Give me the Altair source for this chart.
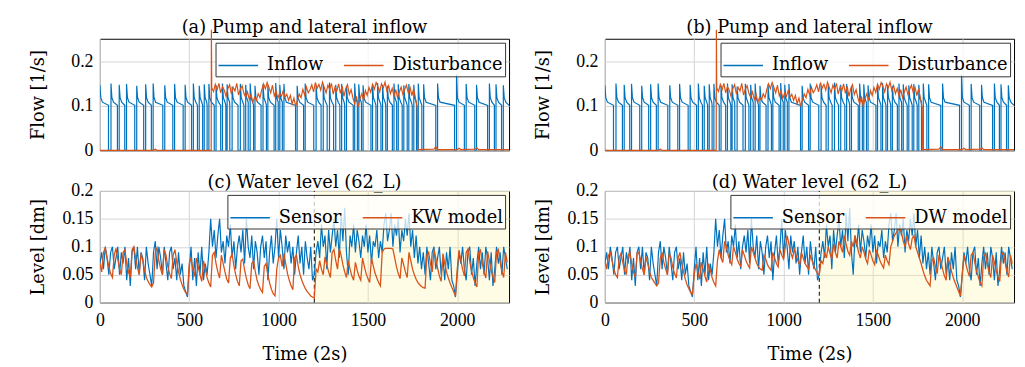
import altair as alt
import pandas as pd

BLUE = "#0072BD"
ORANGE = "#D95319"
FONT = "DejaVu Serif"
TICKFONT = "Liberation Serif"
W, H = 414, 113

t_end = 2290
shade_start = 1200

# ---------------- (a)/(b) pump and lateral inflow ----------------
# pump switch-off intervals (time in units of 2 s)
pump_off_start = [48, 98, 139, 195, 245, 288, 352, 408, 466, 513, 546, 575, 600,
                  640, 676, 705, 727, 773, 806, 830, 860, 902, 932, 975, 998, 1021,
                  1095, 1140, 1197, 1238, 1272, 1308, 1343, 1370, 1418, 1441, 1464,
                  1517, 1545, 1573, 1600, 1637, 1661, 1692, 1720, 1748, 1772,
                  1802, 1880, 1985, 2040, 2098, 2170, 2208, 2248]
pump_off_end = [62, 108, 149, 206, 256, 298, 363, 418, 477, 523, 556, 584, 610,
                650, 686, 712, 740, 786, 816, 841, 868, 913, 940, 984, 1007, 1030,
                1104, 1149, 1210, 1250, 1285, 1320, 1353, 1380, 1426, 1449, 1473,
                1526, 1554, 1582, 1609, 1646, 1670, 1701, 1729, 1757, 1782,
                1812, 1890, 1996, 2050, 2108, 2180, 2217, 2258]
startup_peak = [0.146, 0.15, 0.147, 0.149, 0.145, 0.148, 0.15, 0.146, 0.149, 0.147,
                0.15, 0.145, 0.148, 0.149,
                0.146, 0.15, 0.148, 0.143, 0.149, 0.147, 0.15, 0.145, 0.148, 0.146,
                0.151, 0.147, 0.149, 0.145, 0.15, 0.146, 0.148, 0.152, 0.147, 0.149,
                0.145, 0.15, 0.148, 0.146, 0.149, 0.151, 0.147, 0.145, 0.15, 0.148,
                0.146, 0.149, 0.147, 0.15,
                0.148, 0.15, 0.17, 0.149, 0.147, 0.15, 0.148, 0.146]
settle_level = [0.118, 0.108, 0.101]

dist_pre_t = [0, 300, 310, 320, 623, 624]
dist_pre_v = [0.0, 0.0, 0.003, 0.0, 0.0, 0.27]
dist_t0, dist_dt = 626, 10
dist_v = [0.140, 0.132, 0.148, 0.136, 0.150, 0.129, 0.143, 0.135, 0.121, 0.138,
          0.147, 0.126, 0.141, 0.133, 0.150, 0.124, 0.137, 0.145, 0.128, 0.119,
          0.131, 0.114, 0.125, 0.108, 0.119, 0.112, 0.127, 0.118, 0.136, 0.149,
          0.138, 0.152, 0.141, 0.129, 0.146, 0.122, 0.133, 0.117, 0.128, 0.121,
          0.134, 0.119, 0.126, 0.112, 0.123, 0.104, 0.117, 0.099, 0.113, 0.126,
          0.118, 0.137, 0.124, 0.142, 0.129, 0.136, 0.147, 0.131, 0.152, 0.139,
          0.148, 0.135, 0.153, 0.141, 0.129, 0.146, 0.137, 0.150, 0.126, 0.142,
          0.133, 0.149, 0.128, 0.144, 0.121, 0.138, 0.147, 0.125, 0.136, 0.118,
          0.104, 0.121, 0.098, 0.116, 0.127, 0.112, 0.134, 0.123, 0.141, 0.130,
          0.148, 0.137, 0.152, 0.143, 0.131, 0.149, 0.140, 0.153, 0.134, 0.145,
          0.127, 0.139, 0.122, 0.136, 0.118, 0.131, 0.142, 0.125, 0.137, 0.146,
          0.129, 0.141, 0.123, 0.138, 0.117, 0.096]
dist_post_t = [1779, 1870, 1880, 1890, 2000, 2010, 2020, 2100, 2110, 2120, 2290]
dist_post_v = [0.002, 0.003, 0.008, 0.002, 0.002, 0.005, 0.002, 0.003, 0.006, 0.002, 0.002]

# ---------------- (c)/(d) water level ----------------
level_t = list(range(0, 2290, 10))
sensor = [
    0.07, 0.09, 0.06, 0.1, 0.08, 0.05, 0.09, 0.1, 0.06, 0.08,
    0.1, 0.05, 0.09, 0.07, 0.1, 0.04, 0.08, 0.03, 0.09, 0.1,
    0.06, 0.1, 0.05, 0.09, 0.08, 0.04, 0.1, 0.07, 0.05, 0.03,
    0.09, 0.11, 0.06, 0.1, 0.08, 0.05, 0.1, 0.07, 0.04, 0.09,
    0.1, 0.06, 0.08, 0.04, 0.09, 0.05, 0.07, 0.03, 0.02, 0.01,
    0.06, 0.1, 0.04, 0.08, 0.03, 0.09, 0.05, 0.1, 0.04, 0.07,
    0.05, 0.09, 0.15, 0.1, 0.13, 0.08, 0.12, 0.15, 0.09, 0.11,
    0.07, 0.12, 0.1, 0.14, 0.08, 0.11, 0.06, 0.1, 0.12, 0.09,
    0.13, 0.07, 0.15, 0.1, 0.08, 0.12, 0.06, 0.11, 0.09, 0.05,
    0.1, 0.12, 0.08, 0.11, 0.04, 0.09, 0.12, 0.07, 0.1, 0.15,
    0.08, 0.13, 0.1, 0.06, 0.12, 0.09, 0.11, 0.07, 0.1, 0.05,
    0.09, 0.12, 0.07, 0.1, 0.05, 0.11, 0.08, 0.06, 0.1, 0.04,
    0.05, 0.09, 0.11, 0.08, 0.14, 0.1, 0.12, 0.06, 0.13, 0.09,
    0.12, 0.15, 0.1, 0.13, 0.08, 0.16, 0.11, 0.17, 0.09, 0.05,
    0.12, 0.1, 0.14, 0.09, 0.13, 0.11, 0.08, 0.12, 0.1, 0.14,
    0.09, 0.12, 0.07, 0.11, 0.1, 0.13, 0.08, 0.11, 0.09, 0.14,
    0.16, 0.11, 0.13, 0.16, 0.1, 0.14, 0.12, 0.15, 0.09, 0.13,
    0.11, 0.15, 0.12, 0.16, 0.1, 0.13, 0.08, 0.12, 0.07, 0.1,
    0.06, 0.09, 0.05, 0.1, 0.07, 0.04, 0.09, 0.1, 0.06, 0.08,
    0.1, 0.05, 0.08, 0.04, 0.09, 0.06, 0.1, 0.04, 0.03, 0.01,
    0.05, 0.09, 0.07, 0.1, 0.06, 0.04, 0.09, 0.1, 0.05, 0.08,
    0.03, 0.07, 0.1, 0.06, 0.09, 0.05, 0.1, 0.08, 0.04, 0.09,
    0.03, 0.06, 0.1, 0.07, 0.09, 0.05, 0.1, 0.08, 0.06]
kw_model = [
    0.07, 0.055, 0.09, 0.098, 0.08, 0.065, 0.052, 0.045, 0.085, 0.097,
    0.078, 0.06, 0.05, 0.09, 0.095, 0.07, 0.055, 0.045, 0.095, 0.1,
    0.08, 0.063, 0.05, 0.088, 0.075, 0.058, 0.045, 0.038, 0.032, 0.028,
    0.035, 0.09, 0.098, 0.075, 0.06, 0.05, 0.095, 0.085, 0.065, 0.052,
    0.043, 0.085, 0.095, 0.072, 0.055, 0.042, 0.032, 0.024, 0.018, 0.015,
    0.07, 0.08, 0.06, 0.047, 0.08, 0.065, 0.05, 0.038, 0.075, 0.06,
    0.045, 0.035, 0.028, 0.085, 0.09, 0.07, 0.055, 0.044, 0.085, 0.07,
    0.055, 0.042, 0.035, 0.08, 0.087, 0.066, 0.05, 0.038, 0.03, 0.075,
    0.078, 0.058, 0.043, 0.032, 0.025, 0.07, 0.075, 0.055, 0.04, 0.03,
    0.023, 0.018, 0.065, 0.07, 0.05, 0.035, 0.024, 0.016, 0.012, 0.06,
    0.08, 0.085, 0.065, 0.088, 0.07, 0.052, 0.04, 0.03, 0.023, 0.08,
    0.085, 0.065, 0.05, 0.04, 0.032, 0.025, 0.02, 0.016, 0.012, 0.01,
    0.008, 0.06, 0.055, 0.075, 0.06, 0.05, 0.082, 0.068, 0.055, 0.045,
    0.09, 0.095, 0.075, 0.06, 0.097, 0.085, 0.068, 0.055, 0.045, 0.075,
    0.06, 0.048, 0.04, 0.072, 0.058, 0.047, 0.04, 0.08, 0.065, 0.052,
    0.043, 0.036, 0.08, 0.066, 0.053, 0.044, 0.036, 0.03, 0.09, 0.096,
    0.097, 0.097, 0.097, 0.097, 0.096, 0.08, 0.064, 0.052, 0.043, 0.08,
    0.068, 0.055, 0.045, 0.09, 0.075, 0.06, 0.05, 0.042, 0.036, 0.032,
    0.029, 0.027, 0.026, 0.085, 0.09, 0.07, 0.055, 0.095, 0.08, 0.062,
    0.048, 0.038, 0.088, 0.07, 0.055, 0.044, 0.035, 0.027, 0.02, 0.012,
    0.06, 0.094, 0.075, 0.06, 0.048, 0.09, 0.096, 0.074, 0.057, 0.045,
    0.035, 0.028, 0.09, 0.094, 0.072, 0.055, 0.044, 0.092, 0.075, 0.058,
    0.046, 0.036, 0.09, 0.095, 0.073, 0.056, 0.045, 0.09, 0.072]
dw_model = [
    0.075, 0.06, 0.085, 0.09, 0.075, 0.06, 0.05, 0.045, 0.08, 0.088,
    0.072, 0.058, 0.05, 0.085, 0.09, 0.07, 0.055, 0.045, 0.088, 0.09,
    0.075, 0.06, 0.05, 0.082, 0.07, 0.056, 0.045, 0.04, 0.035, 0.03,
    0.035, 0.08, 0.09, 0.072, 0.06, 0.05, 0.088, 0.08, 0.063, 0.052,
    0.044, 0.08, 0.09, 0.07, 0.055, 0.042, 0.032, 0.025, 0.018, 0.015,
    0.05, 0.07, 0.055, 0.042, 0.072, 0.06, 0.047, 0.037, 0.07, 0.058,
    0.045, 0.036, 0.03, 0.075, 0.095, 0.08, 0.072, 0.11, 0.1, 0.085,
    0.075, 0.068, 0.1, 0.09, 0.078, 0.07, 0.065, 0.095, 0.085, 0.075,
    0.068, 0.062, 0.1, 0.09, 0.08, 0.07, 0.064, 0.06, 0.058, 0.085,
    0.078, 0.068, 0.062, 0.058, 0.09, 0.08, 0.07, 0.064, 0.095, 0.085,
    0.078, 0.1, 0.12, 0.105, 0.09, 0.08, 0.095, 0.085, 0.075, 0.068,
    0.09, 0.08, 0.07, 0.065, 0.06, 0.085, 0.075, 0.065, 0.058, 0.052,
    0.05, 0.075, 0.07, 0.09, 0.08, 0.1, 0.088, 0.078, 0.105, 0.09,
    0.08, 0.11, 0.1, 0.09, 0.12, 0.105, 0.092, 0.085, 0.11, 0.1,
    0.12, 0.105, 0.09, 0.08, 0.1, 0.09, 0.078, 0.07, 0.095, 0.085,
    0.075, 0.068, 0.095, 0.085, 0.075, 0.068, 0.062, 0.085, 0.075, 0.068,
    0.1, 0.11, 0.12, 0.125, 0.13, 0.135, 0.125, 0.11, 0.1, 0.12,
    0.105, 0.095, 0.115, 0.12, 0.1, 0.09, 0.08, 0.07, 0.058, 0.048,
    0.04, 0.035, 0.03, 0.075, 0.08, 0.065, 0.052, 0.085, 0.075, 0.06,
    0.048, 0.04, 0.082, 0.07, 0.056, 0.045, 0.036, 0.028, 0.02, 0.012,
    0.05, 0.085, 0.07, 0.057, 0.047, 0.085, 0.09, 0.072, 0.057, 0.046,
    0.036, 0.03, 0.082, 0.088, 0.07, 0.055, 0.045, 0.085, 0.072, 0.058,
    0.046, 0.038, 0.085, 0.09, 0.072, 0.056, 0.046, 0.085, 0.07]

# ---------------- build tables ----------------
flow_rows = []
starts = [0] + pump_off_end
stops = pump_off_start + [t_end]
for k, (s, e) in enumerate(zip(starts, stops)):
    if k > 0:
        flow_rows.append((s, 0.0))
    flow_rows.append((s, startup_peak[k]))
    flow_rows.append((s + 5, settle_level[0]))
    flow_rows.append((min(s + 14, e), settle_level[1]))
    flow_rows.append((e, settle_level[2]))
    if k < len(stops) - 1:
        flow_rows.append((e, 0.0))
inflow_df = pd.DataFrame(flow_rows, columns=["t", "v"])
inflow_df["series"] = "Inflow"
inflow_df["i"] = range(len(inflow_df))

dist_t = dist_pre_t + [dist_t0 + dist_dt * i for i in range(len(dist_v))] + dist_post_t
dist_vals = dist_pre_v + dist_v + dist_post_v
dist_df = pd.DataFrame({"t": dist_t, "v": dist_vals})
dist_df["series"] = "Disturbance"
dist_df["i"] = range(len(dist_df))

sensor_df = pd.DataFrame({"t": level_t, "v": sensor, "series": "Sensor"})
kw_df = pd.DataFrame({"t": level_t, "v": kw_model, "series": "KW model"})
dw_df = pd.DataFrame({"t": level_t, "v": dw_model, "series": "DW model"})
shade_df = pd.DataFrame({"t": [shade_start], "t2": [t_end], "v": [0.0], "v2": [0.2]})

XTICKS = [0, 500, 1000, 1500, 2000]


def x_enc(show):
    if show:
        ax = alt.Axis(values=XTICKS, format="d", title="Time (2s)", grid=True, ticks=False,
                      domain=False, labelPadding=9, titlePadding=17, labelFlush=False)
    else:
        ax = alt.Axis(values=XTICKS, labels=False, title=None, grid=True, ticks=False, domain=False)
    return alt.X("t:Q", scale=alt.Scale(domain=[0, t_end], nice=False, zero=False), axis=ax)


def y_enc(title, ymax, ticks):
    ax = alt.Axis(values=ticks, format="~g", title=title, grid=True, ticks=False, domain=False,
                  labelPadding=7, titleX=-62, titleY=H / 2, titleAngle=270,
                  titleBaseline="middle", titleAlign="center")
    return alt.Y("v:Q", scale=alt.Scale(domain=[0, ymax], nice=False, zero=False), axis=ax)


def legend():
    return alt.Legend(title=None, orient="top-right", direction="horizontal", offset=4,
                      symbolType="stroke", symbolSize=1600, symbolStrokeWidth=1.5,
                      labelFont=FONT, labelFontSize=18, labelColor="black",
                      fillColor="rgba(255,255,255,0.75)", strokeColor="#333333",
                      padding=2, columnPadding=18, labelOffset=8, cornerRadius=0)


def flow_panel(title):
    cscale = alt.Scale(domain=["Inflow", "Disturbance"], range=[BLUE, ORANGE])
    color = alt.Color("series:N", scale=cscale, legend=legend())
    x = x_enc(False)
    y = y_enc("Flow [1/s]", 0.25, [0, 0.1, 0.2])
    l1 = alt.Chart(inflow_df).mark_line(strokeWidth=1.2, clip=True).encode(
        x=x, y=y, color=color, order="i:Q")
    l2 = alt.Chart(dist_df).mark_line(strokeWidth=1.2, clip=False).encode(
        x=x, y=y, color=color, order="i:Q")
    return alt.layer(l1, l2).properties(width=W, height=H, title=title)


def level_panel(title, model_df, model_name):
    cscale = alt.Scale(domain=["Sensor", model_name], range=[BLUE, ORANGE])
    color = alt.Color("series:N", scale=cscale, legend=legend())
    x = x_enc(True)
    y = y_enc("Level [dm]", 0.2, [0, 0.05, 0.1, 0.15, 0.2])
    shade = alt.Chart(shade_df).mark_rect(color="#fff5a0", opacity=0.28).encode(
        x=x, x2="t2:Q", y=y, y2="v2:Q")
    rule = alt.Chart(shade_df).mark_rule(color="black", strokeDash=[4, 3], strokeWidth=1).encode(
        x=x, y=y, y2="v2:Q")
    l1 = alt.Chart(sensor_df).mark_line(strokeWidth=1.2, clip=True).encode(
        x=x, y=y, color=color)
    l2 = alt.Chart(model_df).mark_line(strokeWidth=1.3, clip=True).encode(
        x=x, y=y, color=color)
    return alt.layer(shade, rule, l1, l2).properties(width=W, height=H, title=title)


a = flow_panel("(a) Pump and lateral inflow")
b = flow_panel("(b) Pump and lateral inflow")
c = level_panel("(c) Water level (62_L)", kw_df, "KW model")
d = level_panel("(d) Water level (62_L)", dw_df, "DW model")

chart = alt.concat(a, b, c, d, columns=2, spacing={"row": 13, "column": 22}).resolve_scale(
    x="independent", y="independent", color="independent"
).resolve_legend(color="independent").properties(
    padding={"left": 21, "top": 9, "right": 0, "bottom": 0}
).configure_view(stroke="black", strokeWidth=1).configure_axis(
    gridColor="#d4d4d4", gridWidth=1, labelFont=TICKFONT, labelFontSize=18, labelColor="black",
    titleFont=FONT, titleFontSize=18, titleFontWeight="normal", titleColor="black"
).configure_title(
    font=FONT, fontSize=18, fontWeight="normal", color="black", anchor="middle",
    frame="group", baseline="alphabetic", offset=-10
)

chart.save("out.html", embed_options={"renderer": "svg", "actions": False})
